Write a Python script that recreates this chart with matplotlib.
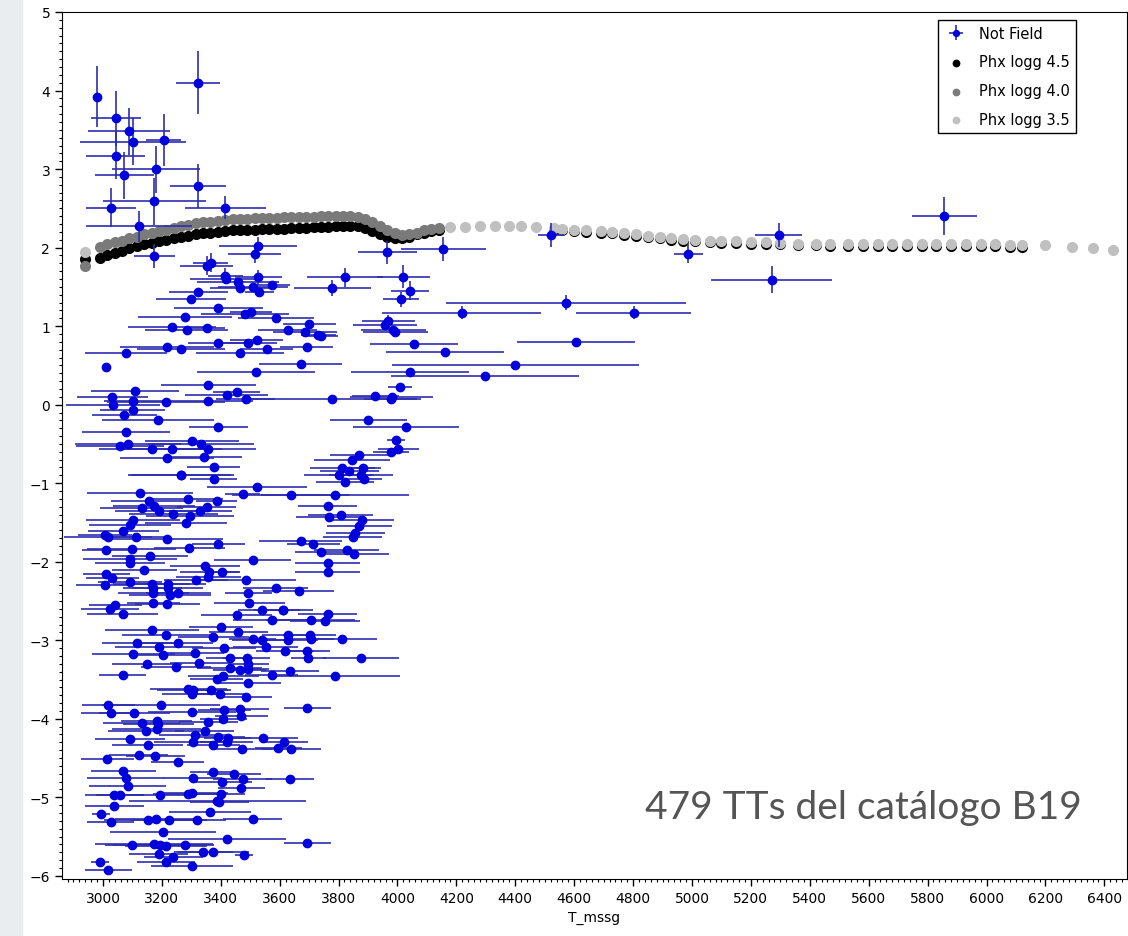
import matplotlib
matplotlib.use("Agg")
import matplotlib.pyplot as plt
from matplotlib.patches import Rectangle
from matplotlib.ticker import MultipleLocator

# ---- data ----
# observed stars: Teff, EW(K), errors
t_eff = [2981, 3043, 3088, 3101, 3206, 3322, 3043, 3072, 3181, 3322, 3175, 3027, 3415, 3121, 3175, 3527, 3515, 3353, 3366, 3416, 3527,
         3966, 4156, 4522, 4988, 5295, 5270, 5857, 3822, 3779, 4019, 4043, 4012, 4571, 4218, 4802, 3969, 3958, 3986, 3992, 4606, 4057, 4161, 4400, 4042, 4297, 4008, 3980,
         3324, 3299, 3392, 3279, 3482, 3503, 3587, 3235, 3284, 3355, 3417, 3459, 3510, 3531, 3575, 3465, 3700, 3627, 3686, 3731, 3739,
         3078, 3218, 3265, 3389, 3465, 3491, 3522, 3556, 3692, 3009, 3520, 3671, 3109, 3358, 3454, 3420, 3032, 3103, 3035, 3214, 3358, 3485, 3779, 3924, 3978,
         3072, 3101, 3186, 3392, 3901, 4028, 3078, 3994, 3086, 3058, 3303, 3332, 3165, 3235, 3358, 3218, 3343, 3377, 3265,
         3978, 4003, 3870, 3846, 3813, 3836, 3884, 3802, 3876,
         3822, 3887, 3637, 3788, 3763, 3767, 3807, 3878, 3870, 3856, 3848, 3671, 3714, 3742, 3827, 3852, 3763, 3763, 3665, 3612, 3763, 3705, 3754,
         3264, 3376, 3524, 3126, 3474, 3288, 3156, 3386, 3131, 3174, 3191, 3239, 3295, 3329, 3352, 3101, 3092, 3282, 3069, 3007, 3018, 3112, 3218,
         3010, 3097, 3293, 3392, 3160, 3092, 3092, 3508, 3141, 3346, 3361, 3405, 3358, 3012, 3032, 3007, 3092, 3165, 3169, 3220, 3220, 3316, 3485, 3587,
         3171, 3228, 3256, 3493, 3171, 3218, 3041, 3024, 3067, 3497, 3539, 3610, 3454, 3573, 3401, 3166, 3459, 3214, 3375, 3508, 3539, 3629, 3629, 3703, 3705, 3810,
         3117, 3190, 3254, 3411, 3552, 3618, 3692, 3697, 3103, 3205, 3312, 3876, 3150, 3248, 3327, 3431, 3488, 3431, 3465, 3493, 3493, 3067, 3573, 3635, 3788,
         3386, 3409, 3493, 3290, 3305, 3301, 3366, 3397, 3485, 3018, 3196, 3694, 3027, 3106, 3303, 3412, 3465, 3409, 3469, 3358, 3131, 3182, 3188,
         3146, 3182, 3346, 3312, 3092, 3305, 3392, 3423, 3375, 3542, 3616, 3420, 3152, 3473, 3595, 3640, 3122, 3177, 3015, 3254,
         3375, 3445, 3069, 3077, 3305, 3405, 3474, 3635, 3084, 3469, 3038, 3058, 3194, 3290, 3303, 3401, 3038, 3388, 3395,
         2993, 3026, 3154, 3180, 3225, 3318, 3363, 3508, 3205, 3420, 3694, 3097, 3174, 3194, 3214, 3278, 3190, 3239, 3341, 3375, 3479, 2990, 3214, 3018, 3303]
ew_k = [3.92, 3.65, 3.48, 3.35, 3.37, 4.10, 3.17, 2.92, 3.00, 2.79, 2.59, 2.51, 2.51, 2.27, 1.89, 2.02, 1.92, 1.77, 1.81, 1.64, 1.62,
        1.94, 1.98, 2.16, 1.92, 2.16, 1.59, 2.40, 1.62, 1.49, 1.63, 1.45, 1.34, 1.30, 1.17, 1.17, 1.06, 1.01, 0.95, 0.92, 0.80, 0.77, 0.67, 0.51, 0.42, 0.37, 0.23, 0.10,
        1.43, 1.35, 1.23, 1.12, 1.15, 1.18, 1.10, 0.99, 0.95, 0.98, 1.60, 1.56, 1.50, 1.43, 1.52, 1.48, 1.03, 0.95, 0.92, 0.89, 0.88,
        0.66, 0.73, 0.71, 0.78, 0.66, 0.79, 0.82, 0.71, 0.73, 0.48, 0.42, 0.52, 0.18, 0.25, 0.16, 0.12, 0.10, 0.05, 0.00, 0.04, 0.05, 0.07, 0.07, 0.11, 0.07,
        -0.13, -0.07, -0.20, -0.28, -0.19, -0.28, -0.35, -0.45, -0.50, -0.53, -0.46, -0.50, -0.57, -0.57, -0.57, -0.68, -0.67, -0.79, -0.89,
        -0.60, -0.57, -0.64, -0.70, -0.81, -0.85, -0.81, -0.90, -0.90,
        -0.99, -0.95, -1.15, -1.15, -1.29, -1.43, -1.41, -1.47, -1.54, -1.63, -1.69, -1.73, -1.78, -1.87, -1.85, -1.90, -2.02, -2.13, -2.37, -2.61, -2.67, -2.74, -2.76,
        -0.90, -0.95, -1.05, -1.12, -1.14, -1.20, -1.23, -1.23, -1.32, -1.29, -1.36, -1.39, -1.42, -1.36, -1.30, -1.47, -1.53, -1.51, -1.61, -1.66, -1.68, -1.69, -1.71,
        -1.85, -1.84, -1.82, -1.78, -1.93, -1.97, -2.02, -1.98, -2.11, -2.05, -2.13, -2.13, -2.19, -2.16, -2.21, -2.30, -2.26, -2.28, -2.34, -2.28, -2.33, -2.23, -2.23, -2.33,
        -2.40, -2.42, -2.40, -2.40, -2.52, -2.54, -2.55, -2.60, -2.67, -2.52, -2.61, -2.61, -2.68, -2.74, -2.83, -2.87, -2.89, -2.93, -2.96, -2.98, -3.00, -2.93, -3.00, -2.93, -2.98, -2.98,
        -3.03, -3.08, -3.04, -3.10, -3.08, -3.14, -3.14, -3.22, -3.18, -3.19, -3.16, -3.22, -3.30, -3.34, -3.29, -3.23, -3.23, -3.35, -3.38, -3.30, -3.36, -3.44, -3.44, -3.39, -3.45,
        -3.49, -3.46, -3.55, -3.62, -3.63, -3.68, -3.63, -3.68, -3.72, -3.83, -3.82, -3.86, -3.92, -3.92, -3.91, -3.89, -3.88, -4.00, -3.97, -4.04, -4.05, -4.03, -4.07,
        -4.16, -4.13, -4.15, -4.20, -4.26, -4.29, -4.23, -4.25, -4.33, -4.24, -4.29, -4.29, -4.33, -4.38, -4.37, -4.39, -4.46, -4.48, -4.51, -4.55,
        -4.68, -4.70, -4.67, -4.75, -4.75, -4.80, -4.77, -4.77, -4.85, -4.88, -4.97, -4.97, -4.97, -4.96, -4.94, -4.96, -5.11, -5.05, -5.06,
        -5.21, -5.32, -5.29, -5.27, -5.29, -5.29, -5.19, -5.27, -5.44, -5.53, -5.58, -5.61, -5.59, -5.61, -5.62, -5.61, -5.72, -5.76, -5.69, -5.69, -5.73, -5.82, -5.82, -5.93, -5.87]
t_err = [10, 85, 140, 180, 60, 75, 100, 100, 150, 95, 175, 85, 137, 180, 70, 133, 90, 90, 60, 60, 80,
         100, 145, 45, 50, 80, 205, 110, 130, 130, 90, 65, 60, 407, 270, 195, 90, 110, 110, 110, 200, 150, 200, 420, 200, 320, 40, 140,
         100, 120, 150, 160, 150, 70, 130, 150, 140, 60, 120, 140, 120, 50, 60, 100, 90, 100, 110, 60, 60,
         140, 160, 150, 100, 150, 100, 90, 90, 90, 0, 200, 140, 150, 160, 80, 140, 120, 100, 160, 200, 150, 100, 300, 80, 90,
         110, 110, 190, 100, 130, 180, 150, 30, 180, 150, 160, 180, 180, 170, 160, 160, 130, 90, 180,
         60, 70, 100, 130, 110, 100, 60, 120, 110,
         100, 60, 200, 250, 100, 110, 110, 110, 110, 100, 100, 140, 90, 90, 110, 120, 110, 110, 120, 100, 100, 150, 120,
         170, 80, 170, 180, 60, 120, 130, 70, 140, 140, 150, 150, 150, 110, 100, 160, 140, 140, 120, 90, 150, 120, 190,
         80, 150, 120, 90, 130, 160, 120, 130, 110, 120, 100, 60, 110, 80, 90, 100, 110, 130, 100, 130, 120, 110, 170, 110,
         120, 140, 110, 80, 90, 110, 90, 100, 120, 120, 80, 60, 120, 130, 110, 160, 100, 150, 120, 80, 100, 90, 100, 90, 80, 120,
         120, 150, 120, 110, 110, 100, 80, 60, 140, 110, 100, 130, 120, 120, 100, 80, 80, 110, 90, 70, 70, 80, 90, 100, 220,
         90, 120, 110, 130, 120, 100, 70, 90, 90, 90, 200, 80, 100, 120, 150, 90, 100, 80, 90, 100, 130, 120, 120,
         130, 150, 100, 120, 120, 130, 90, 80, 90, 120, 80, 90, 120, 100, 80, 100, 100, 100, 90, 90,
         80, 90, 110, 130, 100, 100, 100, 80, 130, 80, 100, 80, 120, 120, 120, 80, 100, 300, 100,
         30, 80, 150, 140, 130, 100, 140, 100, 180, 200, 80, 90, 200, 160, 140, 100, 100, 100, 100, 120, 30, 30, 100, 80, 140]
ew_top = [0.39, 0.35, 0.30, 0.30, 0.33, 0.40, 0.30, 0.30, 0.30, 0.28, 0.30, 0.25, 0.15, 0.20, 0.15, 0.12, 0.12, 0.12, 0.12, 0.10, 0.10,
          0.15, 0.15, 0.15, 0.12, 0.15, 0.17, 0.24, 0.12, 0.10, 0.15, 0.12, 0.10, 0.10, 0.08, 0.08, 0.08]
ew_err = ew_top + [0.05] * (len(t_eff) - len(ew_top))

# Phoenix model sequences
phx45_t = [2940, 2990, 3015, 3040, 3065, 3090, 3115, 3140, 3165, 3190, 3215, 3240, 3265, 3290, 3315, 3340, 3365, 3390, 3415, 3440,
           3465, 3490, 3515, 3540, 3565, 3590, 3615, 3640, 3665, 3690, 3715, 3740, 3765, 3790, 3815, 3840, 3865, 3890, 3915, 3940,
           3965, 3990, 4015, 4040, 4065, 4090, 4115, 4140,
           4530, 4560, 4600, 4640, 4690, 4730, 4770, 4810, 4850, 4890, 4930, 4970, 5010, 5060, 5100, 5150, 5200, 5250, 5300, 5360,
           5420, 5470, 5530, 5580, 5630, 5680, 5730, 5780, 5830, 5880, 5930, 5980, 6030, 6080, 6120]
phx45_ew = [1.86, 1.87, 1.90, 1.93, 1.96, 1.99, 2.02, 2.04, 2.06, 2.08, 2.10, 2.12, 2.14, 2.15, 2.17, 2.18, 2.19, 2.20, 2.21, 2.22,
            2.22, 2.23, 2.23, 2.24, 2.24, 2.24, 2.24, 2.25, 2.25, 2.25, 2.26, 2.26, 2.26, 2.27, 2.27, 2.27, 2.27, 2.25, 2.21, 2.17,
            2.14, 2.12, 2.12, 2.14, 2.17, 2.19, 2.21, 2.22,
            2.23, 2.22, 2.21, 2.20, 2.19, 2.18, 2.16, 2.15, 2.13, 2.12, 2.10, 2.09, 2.08, 2.07, 2.06, 2.06, 2.05, 2.05, 2.04, 2.03,
            2.03, 2.02, 2.02, 2.02, 2.02, 2.02, 2.02, 2.02, 2.02, 2.02, 2.02, 2.02, 2.02, 2.01, 2.01]
phx40_t = [2940, 2990, 3015, 3040, 3065, 3090, 3115, 3140, 3165, 3190, 3215, 3240, 3265, 3290, 3315, 3340, 3365, 3390, 3415, 3440,
           3465, 3490, 3515, 3540, 3565, 3590, 3615, 3640, 3665, 3690, 3715, 3740, 3765, 3790, 3815, 3840, 3865, 3890, 3915, 3940,
           3965, 3990, 4015, 4040, 4065, 4090, 4115, 4140]
phx40_ew = [1.77, 2.01, 2.04, 2.07, 2.09, 2.12, 2.14, 2.17, 2.19, 2.21, 2.23, 2.25, 2.27, 2.29, 2.31, 2.32, 2.33, 2.34, 2.35, 2.36,
            2.37, 2.37, 2.38, 2.38, 2.38, 2.38, 2.39, 2.39, 2.39, 2.39, 2.39, 2.40, 2.40, 2.40, 2.40, 2.40, 2.39, 2.36, 2.32, 2.27,
            2.22, 2.18, 2.16, 2.17, 2.19, 2.22, 2.24, 2.25]
phx35_t = [2940, 4180, 4230, 4280, 4330, 4380, 4420, 4470, 4530, 4560, 4600, 4640, 4690, 4730, 4770, 4810, 4850, 4890, 4930, 4970,
           5010, 5060, 5100, 5150, 5200, 5250, 5300, 5360, 5420, 5470, 5530, 5580, 5630, 5680, 5730, 5780, 5830, 5880, 5930, 5980,
           6030, 6080, 6120, 6200, 6290, 6360, 6430]
phx35_ew = [1.95, 2.26, 2.26, 2.27, 2.27, 2.27, 2.27, 2.26, 2.25, 2.24, 2.23, 2.22, 2.21, 2.20, 2.18, 2.17, 2.15, 2.14, 2.12, 2.11,
            2.10, 2.09, 2.08, 2.08, 2.07, 2.07, 2.06, 2.05, 2.05, 2.04, 2.04, 2.04, 2.04, 2.04, 2.04, 2.04, 2.04, 2.04, 2.04, 2.04,
            2.04, 2.03, 2.03, 2.03, 2.01, 1.99, 1.97]

note = "479 TTs del catálogo B19"

# ---- figure ----
fig = plt.figure(figsize=(11.28, 9.37), dpi=100)
fig.patches.append(Rectangle((0, 0), 22/1128, 1, transform=fig.transFigure, color='#e9edf0', zorder=0))
ax = fig.add_axes([62/1128, 57/937, 1065/1128, 867/937])

ax.scatter(phx45_t, phx45_ew, s=64, color='black', label='Phx logg 4.5', zorder=1, linewidths=0)
ax.scatter(phx40_t, phx40_ew, s=64, color='#7a7a7a', label='Phx logg 4.0', zorder=1.1, linewidths=0)
ax.scatter(phx35_t, phx35_ew, s=64, color='#c0c0c0', label='Phx logg 3.5', zorder=1.2, linewidths=0)
eb = ax.errorbar(t_eff, ew_k, xerr=t_err, yerr=ew_err, fmt='o', color='#0000dd', ecolor='#2e2eb0',
                 elinewidth=1.2, markersize=6, capsize=0, label='Not Field', zorder=3)

ax.set_xlim(2861, 6477)
ax.set_ylim(-6.04, 5.0)
ax.xaxis.set_major_locator(MultipleLocator(200))
ax.xaxis.set_minor_locator(MultipleLocator(20))
ax.yaxis.set_major_locator(MultipleLocator(1))
ax.yaxis.set_minor_locator(MultipleLocator(0.1))
ax.tick_params(which='major', direction='out', length=5, width=1, labelsize=10)
ax.tick_params(which='minor', direction='out', length=2.5, width=0.8)
ax.set_xlabel('T_mssg', fontsize=10)
ax.set_ylabel('EW-K', fontsize=10)

handles, labels = ax.get_legend_handles_labels()
order = [labels.index(l) for l in ['Not Field', 'Phx logg 4.5', 'Phx logg 4.0', 'Phx logg 3.5']]
leg = ax.legend([handles[i] for i in order], [labels[i] for i in order], loc='upper right',
                bbox_to_anchor=(0.952, 0.991), fontsize=10.5, fancybox=False, edgecolor='black',
                framealpha=1, borderaxespad=0, handlelength=1.6, labelspacing=0.95, markerscale=0.7)
leg.get_frame().set_linewidth(1)

fig.text(645/1128, 1 - 808/937, note, fontsize=28, color='#555555', family='Lato', va='center', ha='left')

fig.savefig('out.png', dpi=100)
